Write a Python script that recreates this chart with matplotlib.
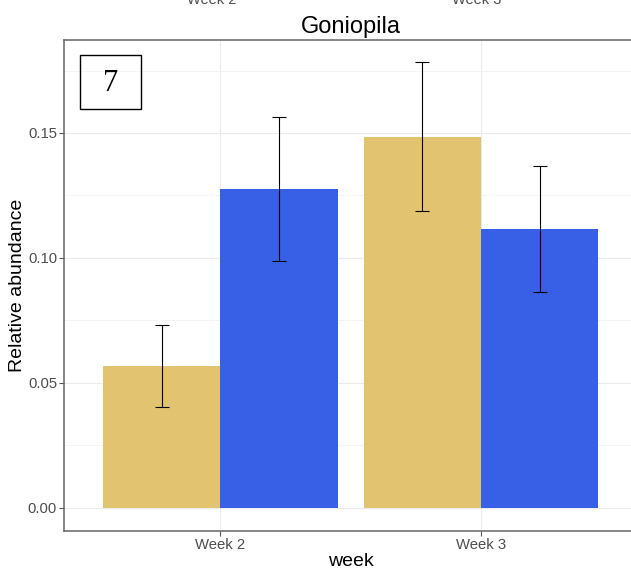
import matplotlib
matplotlib.use("Agg")
import matplotlib.pyplot as plt
from matplotlib.patches import Rectangle
import numpy as np

plt.rcParams['font.family'] = ['Liberation Sans', 'DejaVu Sans']

weeks = ["Week 2", "Week 3"]
groups = ["A", "B"]
means = {
    "A": [0.0568, 0.1484],
    "B": [0.1276, 0.1116],
}
lower = {
    "A": [0.0404, 0.1188],
    "B": [0.0988, 0.0864],
}
upper = {
    "A": [0.0732, 0.1784],
    "B": [0.1564, 0.1368],
}
colors = {"A": "#E2C370", "B": "#3860E6"}

fig = plt.figure(figsize=(6.31, 5.69), dpi=100)
ax = fig.add_axes([0.1014, 0.0668, 0.909, 0.8629])

x = np.arange(1, len(weeks) + 1)
bw = 0.45
offsets = {"A": -bw / 2, "B": bw / 2}
for g in groups:
    xs = x + offsets[g]
    m = np.array(means[g])
    ax.bar(xs, m, width=bw, color=colors[g], zorder=2)
    yerr = np.vstack([m - np.array(lower[g]), np.array(upper[g]) - m])
    ax.errorbar(xs, m, yerr=yerr, fmt="none", ecolor="black",
                elinewidth=0.8, capsize=4.7, capthick=0.8, zorder=3)

ax.set_xlim(0.4, 2.6)
ax.set_ylim(-0.0092, 0.1872)
ax.set_xticks(x)
ax.set_xticklabels(weeks)
ax.set_yticks([0.0, 0.05, 0.10, 0.15])
ax.set_yticklabels(["0.00", "0.05", "0.10", "0.15"])
ax.set_yticks([0.025, 0.075, 0.125, 0.175], minor=True)
ax.tick_params(axis="both", which="major", labelsize=10.7, labelcolor="#4D4D4D",
               color="#555555", length=3.5, width=0.8, pad=1.5)
ax.tick_params(axis="y", which="minor", length=0)
ax.grid(True, which="major", color="#EBEBEB", linewidth=0.8, zorder=0)
ax.grid(True, which="minor", axis="y", color="#F2F2F2", linewidth=0.6, zorder=0)
ax.set_axisbelow(True)
for s in ax.spines.values():
    s.set_color("#666666")
    s.set_linewidth(1.1)

ax.set_xlabel("week", fontsize=14, labelpad=0.5)
ax.set_ylabel("Relative abundance", fontsize=14, labelpad=1.5)
ax.set_title("Goniopila", fontsize=17, pad=5)

# panel tag
ax.add_patch(Rectangle((0.0279, 0.8595), 0.1063, 0.11, transform=ax.transAxes,
                       fill=False, edgecolor="black", linewidth=1.0, zorder=5))
ax.text(0.081, 0.912, "7", transform=ax.transAxes, ha="center", va="center",
        fontsize=22, family=["Liberation Serif", "DejaVu Serif"], zorder=6)

# strip labels along the top edge
fig.text(212 / 631, 1.0 - 4 / 569, "Week 2", ha="center", va="baseline",
         fontsize=10.5, color="#4D4D4D")
fig.text(477 / 631, 1.0 - 4 / 569, "Week 3", ha="center", va="baseline",
         fontsize=10.5, color="#4D4D4D")

fig.savefig("out.png", dpi=100)
